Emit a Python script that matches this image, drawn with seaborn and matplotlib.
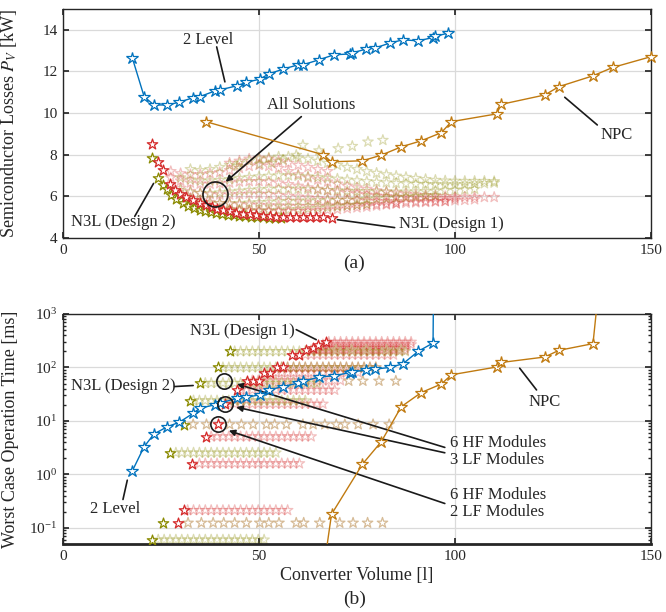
import numpy as np
import pandas as pd
import matplotlib
matplotlib.use("Agg")
import matplotlib.pyplot as plt
import seaborn as sns
from matplotlib.ticker import LogLocator, NullFormatter, FixedLocator

# ---------------- data ----------------
# 2-Level converter
L2_VOL = [17.7, 20.7, 23.2, 26.6, 29.6, 33.2, 34.9, 38.7, 40.0, 44.5, 46.8, 50.2, 52.5, 56.1,
          60.0, 61.2, 65.3, 69.1, 73.1, 73.6, 77.2, 79.5, 83.3, 86.7, 90.6, 94.4, 94.8, 98.2]
L2_LOSS = [12.64, 10.79, 10.39, 10.39, 10.52, 10.74, 10.79, 11.06, 11.11, 11.32, 11.48, 11.63, 11.88, 12.11,
           12.32, 12.32, 12.56, 12.80, 12.84, 12.88, 13.07, 13.12, 13.36, 13.52, 13.47, 13.63, 13.68, 13.84]
L2_TIME = [1.17, 3.3, 5.7, 7.8, 9.4, 13.9, 17.3, 20, 21.5, 26.7, 27.8, 30.8, 38, 44,
           51, 55, 66, 70, 80, 84, 88, 93, 100, 117, 200, 287, 1e6, 1e6]

# NPC converter
NPC_VOL = [36.4, 66.2, 68.5, 76.4, 81.2, 86.3, 91.4, 96.5, 99.1, 110.6, 111.8, 122.9, 126.5, 135.2, 140.2, 150.0]
NPC_LOSS = [9.59, 8.01, 7.66, 7.71, 7.98, 8.38, 8.67, 9.06, 9.59, 9.96, 10.42, 10.87, 11.27, 11.79, 12.19, 12.71]
NPC_TIME = [1e-4, 0.012, 0.18, 1.56, 4.1, 18.5, 34, 49, 73, 102, 124, 157, 209, 279, 1e6, 1e6]

# N3L Design 1 (losses)
D1_VOL = [22.8, 24.2, 25.5, 27.2, 28.5, 29.8, 31.5, 33.2, 34.9, 36.6, 38.0, 39.4, 40.8, 42.5, 44.2,
          45.9, 47.6, 49.3, 51.0, 52.7, 54.4, 56.1, 57.8, 59.5, 61.2, 62.9, 64.6, 66.3, 68.5]
D1_LOSS = [8.51, 7.66, 7.29, 6.59, 6.30, 6.10, 5.97, 5.82, 5.69, 5.57, 5.48, 5.41, 5.35, 5.30, 5.22,
           5.17, 5.13, 5.10, 5.07, 5.05, 5.03, 5.02, 5.01, 5.00, 4.99, 4.99, 4.99, 5.02, 4.96]
# N3L Design 1 (operation time)
D1_TVOL = [29.3, 30.9, 33.0, 36.6, 39.6, 41.3, 44.4, 46.9, 48.4, 50.0, 51.4, 52.9, 54.6, 56.0,
           58.5, 60.2, 62.1, 63.8, 65.1, 67.0]
D1_TIME = [0.124, 0.214, 1.6, 5.1, 8.8, 20.8, 38, 57, 57, 57, 80, 80, 100, 100,
           173, 173, 209, 230, 268, 300]

# N3L Design 2 (losses)
D2_VOL = [22.8, 24.2, 25.4, 26.5, 27.6, 28.9, 30.6, 32.0, 33.4, 34.9, 36.3, 37.7, 39.1, 40.5,
          42.0, 43.5, 45.0, 46.5, 48.0, 49.5, 51.0, 52.5, 54.0, 55.5]
D2_LOSS = [7.82, 6.86, 6.55, 6.33, 6.06, 5.85, 5.66, 5.54, 5.44, 5.35, 5.28, 5.23, 5.19, 5.15,
           5.12, 5.09, 5.06, 5.04, 5.02, 5.00, 4.99, 4.98, 4.97, 4.96]
# N3L Design 2 (operation time)
D2_TVOL = [22.8, 25.5, 27.2, 30.9, 32.3, 34.9, 39.6, 42.5]
D2_TIME = [0.060, 0.124, 2.54, 8.4, 24, 51, 100, 200]

# "All solutions" cloud, losses: volume grid + loss curves (start volume, values)
TOP_GRID = [25.0, 27.5, 30.0, 32.5, 35.0, 37.5, 40.0, 42.5, 45.0, 47.5, 50.0, 52.5, 55.0, 57.5,
            60.0, 62.5, 65.0, 67.5, 70.0, 72.5, 75.0, 77.5, 80.0, 82.5, 85.0, 87.5, 90.0, 92.5,
            95.0, 97.5, 100.0, 102.5, 105.0, 107.5, 110.0]
PINK_CURVES = [
    (27.5, [7.20, 7.10, 7.05, 7.05, 7.10, 7.15, 7.25, 7.35, 7.45, 7.50, 7.45, 7.35, 7.20, 7.05, 6.90,
            6.80, 6.70, 6.60, 6.50, 6.42, 6.35, 6.28, 6.22, 6.17, 6.12, 6.08, 6.05, 6.02, 6.00, 5.98,
            5.97, 5.97, 5.96, 5.96]),
    (27.5, [6.90, 6.75, 6.65, 6.60, 6.60, 6.62, 6.65, 6.70, 6.72, 6.72, 6.70, 6.65, 6.58, 6.50, 6.42,
            6.35, 6.28, 6.22, 6.16, 6.11, 6.07, 6.03, 6.00, 5.97, 5.95, 5.93, 5.92, 5.91, 5.90, 5.90]),
    (30.0, [6.40, 6.25, 6.15, 6.10, 6.08, 6.08, 6.10, 6.12, 6.12, 6.10, 6.06, 6.02, 5.98, 5.94, 5.90,
            5.87, 5.84, 5.82, 5.80, 5.78, 5.77, 5.76, 5.75, 5.75, 5.75, 5.76, 5.77, 5.78, 5.80, 5.82, 5.85]),
    (32.5, [5.90, 5.80, 5.72, 5.67, 5.64, 5.62, 5.60, 5.58, 5.56, 5.55, 5.54, 5.53, 5.53, 5.53, 5.54,
            5.55, 5.56, 5.58, 5.60, 5.62, 5.64, 5.66, 5.68, 5.70, 5.72, 5.74, 5.76]),
    (35.0, [5.60, 5.50, 5.43, 5.38, 5.35, 5.32, 5.30, 5.29, 5.28, 5.28, 5.29, 5.30, 5.32, 5.35, 5.38,
            5.42, 5.46, 5.50, 5.55, 5.60, 5.65]),
    (42.5, [7.60, 7.70, 7.80, 7.85, 7.80, 7.70, 7.60, 7.50, 7.40, 7.30, 7.20]),
]
OLIVE_CURVES = [
    (32.5, [7.30, 7.25, 7.30, 7.40, 7.50, 7.60, 7.70, 7.80, 7.85, 7.90, 7.90, 7.85, 7.80, 7.70, 7.60,
            7.50, 7.40, 7.30, 7.20, 7.12, 7.05, 6.98, 6.92, 6.87, 6.82, 6.78, 6.75, 6.74, 6.73, 6.73,
            6.73, 6.72]),
    (30.0, [6.90, 6.80, 6.75, 6.75, 6.78, 6.82, 6.88, 6.92, 6.95, 6.98, 7.00, 7.00, 6.98, 6.95, 6.92,
            6.88, 6.84, 6.80, 6.76, 6.72, 6.69, 6.66, 6.63, 6.61, 6.59, 6.58, 6.57, 6.57, 6.57, 6.58,
            6.60, 6.62, 6.65]),
    (30.0, [6.30, 6.20, 6.15, 6.15, 6.18, 6.22, 6.26, 6.30, 6.33, 6.35, 6.36, 6.36, 6.35, 6.34, 6.32,
            6.30, 6.28, 6.26, 6.25, 6.24, 6.23, 6.22, 6.22, 6.22, 6.23, 6.24, 6.26, 6.28, 6.30, 6.32, 6.35]),
    (32.5, [5.80, 5.72, 5.68, 5.66, 5.66, 5.67, 5.69, 5.71, 5.73, 5.75, 5.77, 5.78, 5.79, 5.80, 5.81,
            5.82, 5.83, 5.85, 5.87, 5.89, 5.91, 5.94, 5.97, 6.00, 6.03, 6.06]),
    (35.0, [5.50, 5.42, 5.37, 5.34, 5.32, 5.31, 5.31, 5.32, 5.34, 5.36, 5.38, 5.41, 5.44, 5.47, 5.51,
            5.55, 5.59, 5.63]),
]
OLIVE_HIGH_VOL = [44.5, 50.2, 53.2, 56.1, 59.5, 61.2, 65.3, 70.2, 73.8, 77.8, 81.6]
OLIVE_HIGH_LOSS = [7.45, 7.55, 7.60, 7.75, 7.98, 8.46, 8.20, 8.30, 8.41, 8.62, 8.70]

# "All solutions", operation time: volume grid + rows (time, start vol, end vol)
VOL_GRID = [22.8, 24.3, 25.8, 27.3, 28.8, 30.3, 31.8, 33.3, 34.8, 36.3, 37.8, 39.3, 40.8, 42.3,
            43.8, 45.3, 46.8, 48.3, 49.8, 51.3, 52.8, 54.3, 55.8, 57.3, 58.8, 60.3, 61.8, 63.3,
            64.8, 66.3, 67.8, 69.3, 70.8, 72.3, 73.8, 75.3, 76.8, 78.3, 79.8, 81.3, 82.8, 84.3,
            85.8, 87.3, 88.8, 90.3]
PINK_ROWS = [(0.214, 30.9, 58.7), (1.6, 33.0, 61.2), (5.1, 36.6, 64.7), (20.8, 41.3, 67.0),
             (38, 44.4, 70.0), (57, 46.9, 72.0), (80, 51.4, 76.0), (100, 54.6, 80.0),
             (173, 58.5, 85.0), (209, 62.1, 88.0), (230, 63.8, 88.0), (268, 65.1, 90.0),
             (300, 67.0, 90.0)]
OLIVE_ROWS = [(0.060, 22.8, 51.5), (2.54, 27.2, 55.3), (24, 32.3, 62.0), (51, 34.9, 66.0),
              (100, 39.6, 80.0), (200, 42.5, 88.0)]
TAN_ROWS = [
    (0.124, [31.9, 35.3, 38.3, 41.0, 43.8, 46.8, 50.2, 52.5, 55.1, 59.5, 61.4, 65.5, 70.6, 74.0, 77.7, 81.5]),
    (8.6, [33.2, 36.6, 42.5, 45.5, 48.5, 51.9, 54.0, 57.0, 61.2, 63.8, 66.8, 69.7, 71.9, 75.3, 79.1, 83.2]),
    (56, [72.9, 76.5, 80.6, 84.9]),
    (214, [69.7, 73.6, 77.4, 82.5, 86.3]),
]

# annotation circles
CIRC_TOP = ([38.7], [6.09])
CIRC_BOT = ([41.0, 41.3, 39.5], [57, 20.8, 8.7])

# ---------------- style ----------------
sns.set_theme(style="ticks")
plt.rcParams["font.family"] = ["Liberation Serif", "DejaVu Serif"]
plt.rcParams["mathtext.fontset"] = "stix"

BLUE = "#0072BD"
ORANGE = "#C07A10"
RED = "#D42A2A"
OLIVE = "#8A8A00"
TAN = "#D2B48C"

fig = plt.figure(figsize=(6.66, 6.12), dpi=100)
ax1 = fig.add_axes([63 / 666, 1 - 238 / 612, 588 / 666, 229 / 612])
ax2 = fig.add_axes([63 / 666, 1 - 544 / 612, 588 / 666, 230 / 612])

S = 62
FADE = 0.3


def curve_points(curves, grid):
    xs, ys = [], []
    for start, vals in curves:
        i0 = grid.index(start)
        xs += grid[i0:i0 + len(vals)]
        ys += vals
    return xs, ys


def row_points(rows, grid):
    xs, ys = [], []
    for t, a, b in rows:
        g = [v for v in grid if a + 0.5 < v <= b]
        xs += g
        ys += [t] * len(g)
    return xs, ys


def stars(ax, x, y, color, alpha=1.0, z=3, s=S, fc="none"):
    sns.scatterplot(x=x, y=y, ax=ax, marker="*", s=s, color=color, facecolor=fc,
                    edgecolor=color, linewidth=0.9, alpha=alpha, zorder=z, legend=False)


def starline(ax, x, y, color, z=5, clip=True):
    sns.lineplot(x=x, y=y, ax=ax, sort=False, estimator=None, color=color, lw=1.0,
                 marker="*", markersize=9, markerfacecolor="white", markeredgecolor=color,
                 markeredgewidth=0.9, zorder=z, clip_on=clip, legend=False)


# ---------------- panel (a) ----------------
px, py = curve_points(PINK_CURVES, TOP_GRID)
ox, oy = curve_points(OLIVE_CURVES, TOP_GRID)
stars(ax1, px, py, RED, alpha=FADE, z=2)
stars(ax1, ox, oy, OLIVE, alpha=FADE, z=2)
stars(ax1, OLIVE_HIGH_VOL, OLIVE_HIGH_LOSS, OLIVE, alpha=FADE, z=2)
stars(ax1, D2_VOL, D2_LOSS, OLIVE, z=3, fc="white")
stars(ax1, D1_VOL, D1_LOSS, RED, z=4, fc="white")
starline(ax1, L2_VOL, L2_LOSS, BLUE)
starline(ax1, NPC_VOL, NPC_LOSS, ORANGE, clip=False)
ax1.plot(*CIRC_TOP, marker="o", ms=18, mfc="none", mec="k", mew=1.2, ls="none", zorder=6)

ax1.set_xlim(0, 150)
ax1.set_ylim(4, 15)
ax1.set_yticks([4, 6, 8, 10, 12, 14])
ax1.set_xticks([0, 50, 100, 150])
ax1.set_ylabel(r"Semiconductor Losses $P_V$ [kW]", fontsize=13)
ax1.yaxis.set_label_coords(-0.075, 0.5)

# ---------------- panel (b) ----------------
prx, pry = row_points(PINK_ROWS, VOL_GRID)
orx, ory = row_points(OLIVE_ROWS, VOL_GRID)
stars(ax2, prx, pry, RED, alpha=FADE, z=2)
stars(ax2, orx, ory, OLIVE, alpha=FADE, z=2)
for t, xs in TAN_ROWS:
    stars(ax2, xs, [t] * len(xs), TAN, alpha=0.9, z=2)
stars(ax2, D2_TVOL, D2_TIME, OLIVE, z=3, fc="white")
stars(ax2, D1_TVOL, D1_TIME, RED, z=4, fc="white")
starline(ax2, L2_VOL, L2_TIME, BLUE)
starline(ax2, NPC_VOL, NPC_TIME, ORANGE)
ax2.plot(*CIRC_BOT, marker="o", ms=11, mfc="none", mec="k", mew=1.2, ls="none", zorder=6)

ax2.set_yscale("log")
ax2.set_xlim(0, 150)
ax2.set_ylim(0.05, 1000)
ax2.set_xticks([0, 50, 100, 150])
ax2.yaxis.set_major_locator(FixedLocator([0.1, 1, 10, 100, 1000]))
ax2.yaxis.set_minor_locator(LogLocator(base=10, subs=np.arange(2, 10), numticks=20))
ax2.yaxis.set_minor_formatter(NullFormatter())
ax2.set_xlabel("Converter Volume [l]", fontsize=13, labelpad=3)
ax2.set_ylabel("Worst Case Operation Time [ms]", fontsize=13)
ax2.yaxis.set_label_coords(-0.075, 0.5)

for ax in (ax1, ax2):
    ax.grid(True, which="major", color="#DADADA", lw=0.9)
    ax.set_axisbelow(True)
    ax.tick_params(which="both", direction="in", top=True, right=True, labelsize=11,
                   color="#262626", pad=4)
    ax.tick_params(which="major", length=4)
    ax.tick_params(which="minor", length=2)
    for sp in ax.spines.values():
        sp.set_color("#262626")
        sp.set_linewidth(1.0)
ax2.spines["bottom"].set_linewidth(2.0)

# ---------------- annotations ----------------
TXT = dict(fontsize=12, ha="center", va="center")
LINE = dict(arrowstyle="-", color="k", lw=1.2, shrinkA=0, shrinkB=0)
ARROW = dict(arrowstyle="-|>", color="k", lw=1.2, mutation_scale=9, shrinkA=0, shrinkB=0)

ax1.text(36.9, 13.52, "2 Level", **TXT)
ax1.annotate("", xy=(41.3, 11.5), xytext=(39.2, 13.18), arrowprops=LINE)
ax1.text(63.2, 10.39, "All Solutions", **TXT)
ax1.annotate("", xy=(41.5, 6.70), xytext=(60.8, 9.83), arrowprops=ARROW)
ax1.text(15.3, 4.76, "N3L (Design 2)", **TXT)
ax1.annotate("", xy=(23.1, 6.62), xytext=(18.3, 5.04), arrowprops=LINE)
ax1.text(99.2, 4.68, "N3L (Design 1)", **TXT)
ax1.annotate("", xy=(70.0, 4.88), xytext=(84.6, 4.50), arrowprops=LINE)
ax1.text(141.2, 8.94, "NPC", **TXT)
ax1.annotate("", xy=(128.0, 10.76), xytext=(136.3, 9.43), arrowprops=LINE)

ax2.text(13.2, 0.223, "2 Level", **TXT)
ax2.annotate("", xy=(16.4, 0.78), xytext=(15.3, 0.34), arrowprops=LINE)
ax2.text(45.8, 478, "N3L (Design 1)", **TXT)
ax2.annotate("", xy=(64.6, 331), xytext=(59.5, 510), arrowprops=LINE)
ax2.text(15.4, 45.4, "N3L (Design 2)", **TXT)
ax2.annotate("", xy=(33.2, 46), xytext=(28.5, 44), arrowprops=LINE)
ax2.text(98.6, 2.68, "6 HF Modules\n3 LF Modules", fontsize=12, ha="left", va="center", linespacing=1.1)
ax2.annotate("", xy=(44.4, 49), xytext=(97.4, 3.2), arrowprops=ARROW)
ax2.annotate("", xy=(44.2, 18.1), xytext=(97.4, 2.54), arrowprops=ARROW)
ax2.text(98.6, 0.286, "6 HF Modules\n2 LF Modules", fontsize=12, ha="left", va="center", linespacing=1.1)
ax2.annotate("", xy=(42.3, 6.6), xytext=(97.4, 0.286), arrowprops=ARROW)
ax2.text(122.9, 22.7, "NPC", **TXT)
ax2.annotate("", xy=(116.5, 97), xytext=(120.8, 38), arrowprops=LINE)

fig.text(0.532, 0.570, "(a)", fontsize=14, ha="center", va="center")
fig.text(0.532, 0.021, "(b)", fontsize=14, ha="center", va="center")

fig.savefig("out.png", dpi=100)
